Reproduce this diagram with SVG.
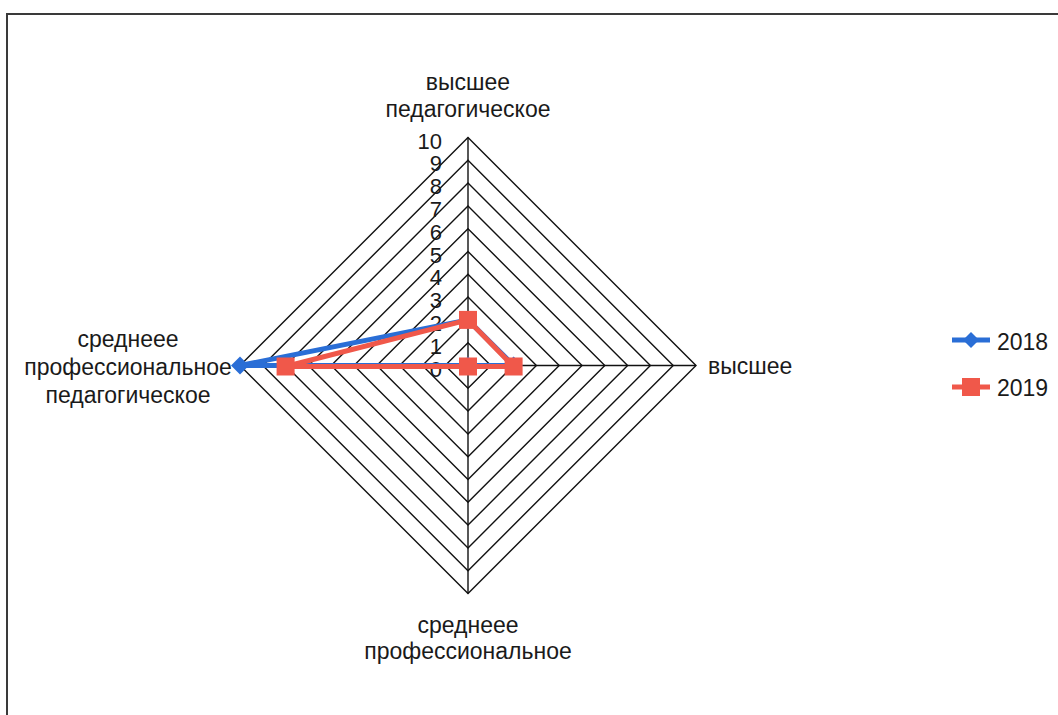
<svg xmlns="http://www.w3.org/2000/svg" width="1058" height="715" viewBox="0 0 1058 715">
<style>
.bg{fill:#ffffff}
.frame{fill:none;stroke:#3a3a3a;stroke-width:2}
.ring{fill:none;stroke:#111;stroke-width:1.4}
.axis{stroke:#111;stroke-width:1.4}
.lbl{font-family:"Liberation Sans",Arial,sans-serif;font-size:23px;fill:#1a1a1a}
.num{font-family:"Liberation Sans",Arial,sans-serif;font-size:22px;fill:#1a1a1a;text-anchor:end}
.mid{text-anchor:middle}
.s18{fill:none;stroke:#2a6ed6;stroke-width:5;stroke-linejoin:round}
.s19{fill:none;stroke:#f0584a;stroke-width:5;stroke-linejoin:round}
.m18{fill:#2a6ed6}
.m19{fill:#f0584a}
</style>
<rect class="bg" x="0" y="0" width="1058" height="715"/>
<path class="frame" d="M7,715 V14 H1058"/>
<g id="grid">
<polygon class="ring" points="468,342.7 490.8,365.5 468,388.3 445.2,365.5"/>
<polygon class="ring" points="468,319.9 513.6,365.5 468,411.1 422.4,365.5"/>
<polygon class="ring" points="468,297.1 536.4,365.5 468,433.9 399.6,365.5"/>
<polygon class="ring" points="468,274.3 559.2,365.5 468,456.7 376.8,365.5"/>
<polygon class="ring" points="468,251.5 582,365.5 468,479.5 354,365.5"/>
<polygon class="ring" points="468,228.7 604.8,365.5 468,502.3 331.2,365.5"/>
<polygon class="ring" points="468,205.9 627.6,365.5 468,525.1 308.4,365.5"/>
<polygon class="ring" points="468,183.1 650.4,365.5 468,547.9 285.6,365.5"/>
<polygon class="ring" points="468,160.3 673.2,365.5 468,570.7 262.8,365.5"/>
<polygon class="ring" points="468,137.5 696,365.5 468,593.5 240,365.5"/>
<line class="axis" x1="468" y1="137.5" x2="468" y2="593.5"/>
<line class="axis" x1="240" y1="365.5" x2="696" y2="365.5"/>
</g>
<g id="scale">
<text class="num" x="442" y="376.5">0</text>
<text class="num" x="442" y="353.7">1</text>
<text class="num" x="442" y="330.9">2</text>
<text class="num" x="442" y="308.1">3</text>
<text class="num" x="442" y="285.3">4</text>
<text class="num" x="442" y="262.5">5</text>
<text class="num" x="442" y="239.7">6</text>
<text class="num" x="442" y="216.9">7</text>
<text class="num" x="442" y="194.1">8</text>
<text class="num" x="442" y="171.3">9</text>
<text class="num" x="442" y="148.5">10</text>
</g>
<g id="axis-top"><text class="lbl mid" x="468" y="90">высшее</text><text class="lbl mid" x="468" y="117">педагогическое</text></g>
<g id="axis-right"><text class="lbl" x="708" y="374">высшее</text></g>
<g id="axis-bottom"><text class="lbl mid" x="468" y="633">среднеее</text><text class="lbl mid" x="468" y="659">профессиональное</text></g>
<g id="axis-left"><text class="lbl mid" x="128" y="347">среднеее</text><text class="lbl mid" x="128" y="375">профессиональное</text><text class="lbl mid" x="128" y="403">педагогическое</text></g>
<g id="series-2018">
<polygon class="s18" points="468,319.9 513.6,365.5 468,365.5 240,365.5"/>
<path class="m18" d="M240,356.5 L249,365.5 L240,374.5 L231,365.5 Z"/>
<path class="m18" d="M468,310.9 L477,319.9 L468,328.9 L459,319.9 Z"/>
<path class="m18" d="M513.6,356.5 L522.6,365.5 L513.6,374.5 L504.6,365.5 Z"/>
<path class="m18" d="M468,356.5 L477,365.5 L468,374.5 L459,365.5 Z"/>
</g>
<g id="series-2019">
<polygon class="s19" points="468,319.9 513.6,366.5 468,366.5 285.6,366.5"/>
<rect class="m19" x="459" y="310.9" width="18" height="18"/>
<rect class="m19" x="504.6" y="357.5" width="18" height="18"/>
<rect class="m19" x="459" y="357.5" width="18" height="18"/>
<rect class="m19" x="276.6" y="357.5" width="18" height="18"/>
</g>
<g id="legend">
<line x1="952" y1="340" x2="990" y2="340" stroke="#2a6ed6" stroke-width="5"/>
<path class="m18" d="M971,332 L979,340 L971,348 L963,340 Z"/>
<text class="lbl" x="997" y="350">2018</text>
<line x1="952" y1="387" x2="990" y2="387" stroke="#f0584a" stroke-width="5"/>
<rect class="m19" x="962" y="378" width="18" height="18"/>
<text class="lbl" x="997" y="396">2019</text>
</g>
</svg>
